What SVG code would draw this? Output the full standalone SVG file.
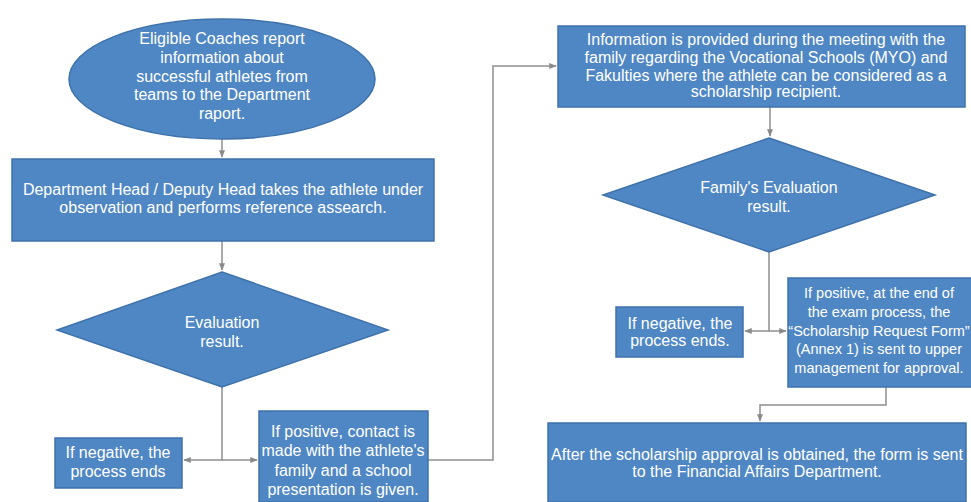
<svg xmlns="http://www.w3.org/2000/svg" width="971" height="502" viewBox="0 0 971 502">
<defs>
<marker id="arr" viewBox="0 0 10 10" refX="9" refY="5" markerWidth="5" markerHeight="5" orient="auto-start-reverse">
<path d="M0,1 L10,5 L0,9 z" fill="#8a8a8a"/>
</marker>
<style>
.shape{fill:#4f87c5;stroke:#3f72aa;stroke-width:1.5}
.t{fill:#ffffff;font-family:"Liberation Sans","DejaVu Sans",sans-serif;font-size:16px;text-anchor:middle}
.s{font-size:14.5px}
.c{fill:none;stroke:#8f8f8f;stroke-width:1.5}
</style>
</defs>
<rect width="971" height="502" fill="#ffffff"/>
<g id="connectors">
<path class="c" d="M222,139 V157" marker-end="url(#arr)"/>
<path class="c" d="M222,241 V270" marker-end="url(#arr)"/>
<path class="c" d="M222,387 V460 H184" marker-end="url(#arr)"/>
<path class="c" d="M222,460 H257" marker-end="url(#arr)"/>
<path class="c" d="M428,460 H493 V66 H556" marker-end="url(#arr)"/>
<path class="c" d="M770,107 V136" marker-end="url(#arr)"/>
<path class="c" d="M769,252 V331 H745" marker-end="url(#arr)"/>
<path class="c" d="M769,331 H786" marker-end="url(#arr)"/>
<path class="c" d="M886,387 V405 H760 V421" marker-end="url(#arr)"/>
</g>
<g id="start">
<ellipse class="shape" cx="222" cy="79" rx="153" ry="60"/>
<text class="t" x="222" y="44">Eligible Coaches report</text>
<text class="t" x="222" y="63">information about</text>
<text class="t" x="222" y="82">successful athletes from</text>
<text class="t" x="222" y="100">teams to the Department</text>
<text class="t" x="222" y="119">raport.</text>
</g>
<g id="observation">
<rect class="shape" x="12" y="159" width="422" height="82"/>
<text class="t" x="223" y="195">Department Head / Deputy Head takes the athlete under</text>
<text class="t" x="223" y="213">observation and performs reference assearch.</text>
</g>
<g id="evaluation">
<polygon class="shape" points="222,272 388,330 222,387 57,330"/>
<text class="t" x="222" y="328">Evaluation</text>
<text class="t" x="222" y="347">result.</text>
</g>
<g id="negative1">
<rect class="shape" x="55" y="438" width="127" height="50"/>
<text class="t" x="118" y="458">If negative, the</text>
<text class="t" x="118" y="477">process ends</text>
</g>
<g id="positive1">
<rect class="shape" x="259" y="411" width="169" height="91"/>
<text class="t" x="343" y="437">If positive, contact is</text>
<text class="t" x="343" y="456">made with the athlete's</text>
<text class="t" x="343" y="476">family and a school</text>
<text class="t" x="343" y="495">presentation is given.</text>
</g>
<g id="information">
<rect class="shape" x="558" y="26" width="407" height="81"/>
<text class="t" x="766" y="45">Information is provided during the meeting with the</text>
<text class="t" x="766" y="63">family regarding the Vocational Schools (MYO) and</text>
<text class="t" x="766" y="81">Fakulties where the athlete can be considered as a</text>
<text class="t" x="766" y="97">scholarship recipient.</text>
</g>
<g id="family-evaluation">
<polygon class="shape" points="769,138 935,195 769,252 603,195"/>
<text class="t" x="769" y="193">Family's Evaluation</text>
<text class="t" x="769" y="212">result.</text>
</g>
<g id="negative2">
<rect class="shape" x="616" y="307" width="127" height="50"/>
<text class="t" x="680" y="329">If negative, the</text>
<text class="t" x="680" y="346">process ends.</text>
</g>
<g id="positive2">
<rect class="shape" x="788" y="278" width="190" height="109"/>
<text class="t s" x="879" y="298">If positive, at the end of</text>
<text class="t s" x="879" y="317">the exam process, the</text>
<text class="t s" x="879" y="336">“Scholarship Request Form”</text>
<text class="t s" x="879" y="354">(Annex 1) is sent to upper</text>
<text class="t s" x="879" y="373">management for approval.</text>
</g>
<g id="financial">
<rect class="shape" x="548" y="423" width="418" height="79"/>
<text class="t" x="757" y="460">After the scholarship approval is obtained, the form is sent</text>
<text class="t" x="757" y="477">to the Financial Affairs Department.</text>
</g>
</svg>
